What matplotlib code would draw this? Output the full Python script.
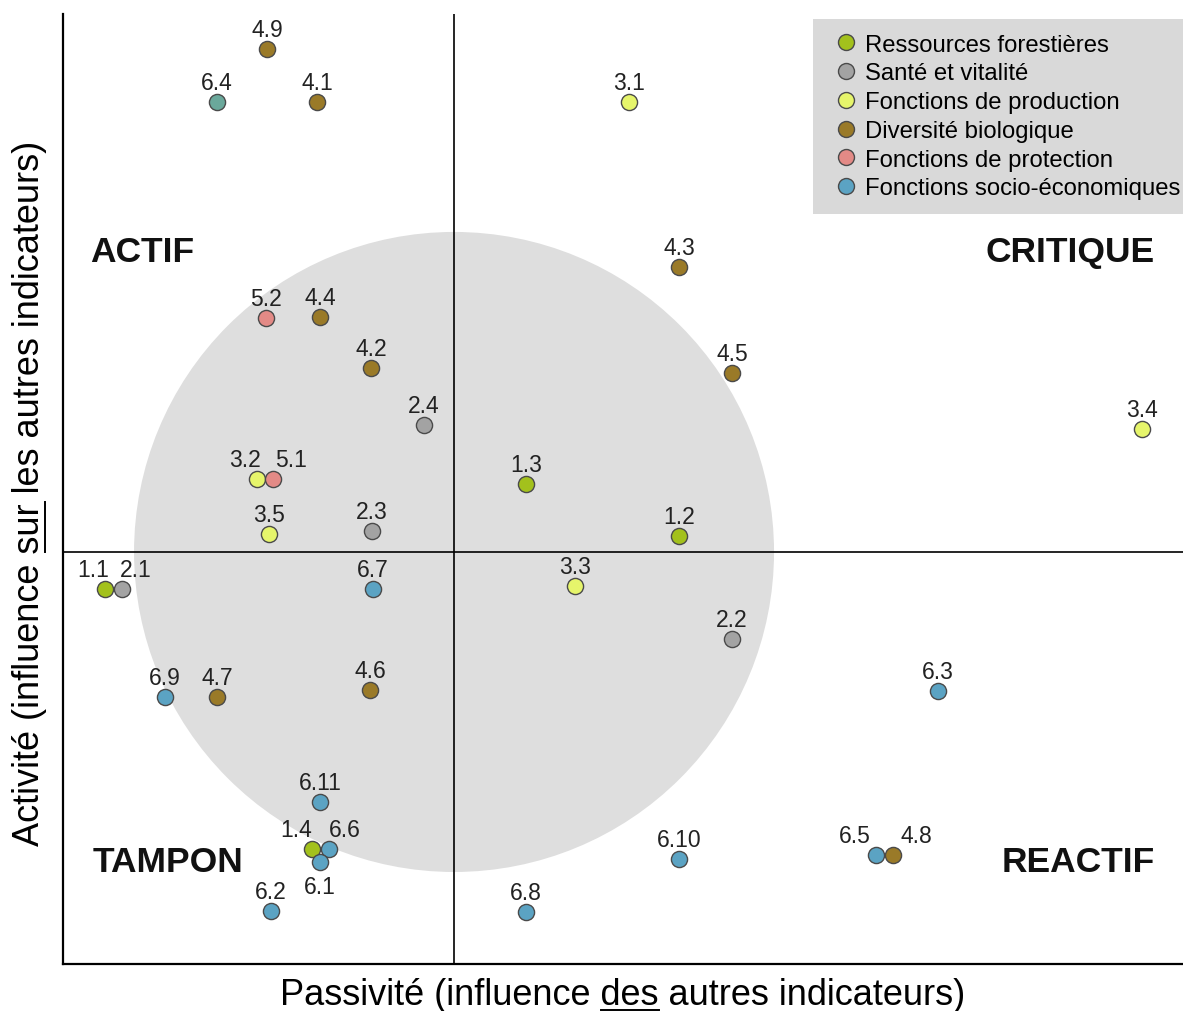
import matplotlib
matplotlib.use("Agg")
import matplotlib.pyplot as plt
from matplotlib.patches import Circle
from matplotlib.lines import Line2D

plt.rcParams['font.family'] = ['Liberation Sans', 'DejaVu Sans']

# ---- data ----
categories = ["Ressources forestières", "Santé et vitalité", "Fonctions de production",
              "Diversité biologique", "Fonctions de protection", "Fonctions socio-économiques"]
cat_colors = ["#a3c11c", "#a3a3a3", "#e6f56b", "#9a7a28", "#e38a86", "#5ba3c3"]

labels = ["4.9", "6.4", "4.1", "3.1", "4.3", "4.5", "3.4", "5.2", "4.4", "4.2", "2.4",
          "3.2", "5.1", "3.5", "2.3", "1.3", "1.2", "1.1", "2.1", "6.7", "3.3", "2.2",
          "6.3", "6.9", "4.7", "4.6", "6.11", "1.4", "6.6", "6.1", "6.2", "6.10", "6.8",
          "6.5", "4.8"]
passivite = [-5.84, -7.41, -4.28, 5.47, 7.03, 8.69, 21.50, -5.88, -4.19, -2.59, -0.94,
             -6.16, -5.66, -5.78, -2.56, 2.25, 7.03, -10.91, -10.38, -2.53, 3.78, 8.69,
             15.13, -9.03, -7.41, -2.63, -4.19, -4.44, -3.91, -4.19, -5.72, 7.03, 2.25,
             13.19, 13.72]
activite = [15.72, 14.06, 14.06, 14.06, 8.91, 5.59, 3.84, 7.31, 7.34, 5.75, 3.97,
            2.28, 2.28, 0.56, 0.66, 2.13, 0.50, -1.16, -1.16, -1.16, -1.06, -2.72,
            -4.34, -4.53, -4.53, -4.31, -7.81, -9.28, -9.28, -9.69, -11.22, -9.59, -11.25,
            -9.47, -9.47]
category_idx = [3, 5, 3, 2, 3, 3, 2, 4, 3, 3, 1,
                2, 4, 2, 1, 0, 0, 0, 1, 5, 2, 1,
                5, 5, 3, 3, 5, 0, 5, 5, 5, 5, 5,
                5, 3]
# point-specific colour shade (6.4 appears teal in the reference)
color_override = {"6.4": "#6aa89b"}

quadrants = ["ACTIF", "CRITIQUE", "TAMPON", "REACTIF"]

# ---- figure ----
W, H = 1183, 1012
fig = plt.figure(figsize=(W / 100, H / 100), dpi=100)
ax = fig.add_axes([63 / W, (H - 965) / H, 1120 / W, 950 / H])
ax.set_xlim(-12.22, 22.78)
ax.set_ylim(-12.875, 16.81)
for s in ["top", "right"]:
    ax.spines[s].set_visible(False)
for s in ["left", "bottom"]:
    ax.spines[s].set_linewidth(1.6)
    ax.spines[s].set_color("black")
ax.set_xticks([])
ax.set_yticks([])

ax.add_patch(Circle((0, 0), 10, facecolor="#dedede", edgecolor="none", zorder=0))
ax.axvline(0, color="black", lw=1.2, zorder=1)
ax.axhline(0, color="black", lw=1.2, zorder=1)

# label offsets (points) for crowded points
lab_off = {"1.1": (-8.6, 9.4), "2.1": (10, 9.4), "3.2": (-8.6, 9.4), "5.1": (13, 9.4),
           "1.4": (-11.5, 9.4), "6.6": (11.5, 9.4), "6.5": (-15, 9.4), "4.8": (16.5, 9.4),
           "6.1": (0, -22.3)}

for lab, x, y, c in zip(labels, passivite, activite, category_idx):
    col = color_override.get(lab, cat_colors[c])
    ax.scatter([x], [y], s=135, color=col, edgecolor="#4a4a4a", linewidth=1.0, zorder=3)
    dx, dy = lab_off.get(lab, (0, 9.4))
    ax.annotate(lab, (x, y), xytext=(dx, dy), textcoords="offset points",
                ha="center", va="baseline", fontsize=16.5, color="#222222", zorder=4)

qpos = [(-11.375, 9.4, "left"), (21.9, 9.4, "right"), (-11.3, -9.66, "left"), (21.9, -9.66, "right")]
for q, (x, y, ha) in zip(quadrants, qpos):
    ax.text(x, y, q, ha=ha, va="center", fontsize=25.5, fontweight="bold", color="#111111")

handles = [Line2D([], [], marker="o", ls="none", markersize=11.5, markerfacecolor=c,
                  markeredgecolor="#4a4a4a", markeredgewidth=1.0) for c in cat_colors]
leg = ax.legend(handles, categories, loc="upper right",
                bbox_to_anchor=(1.0 + 12 / 1120, 1 - 5 / 950),
                fontsize=17.2, frameon=True, fancybox=False, facecolor="#d9d9d9",
                edgecolor="none", framealpha=1, handletextpad=0.05, labelspacing=0.28,
                borderpad=0.62, handlelength=1.5, borderaxespad=0.0)
leg.set_zorder(5)

# axis labels with underlined words
xlab = "Passivité (influence des autres indicateurs)"
ylab = "Activité (influence sur les autres indicateurs)"
tx = fig.text(623 / W, 1 - 996 / H, xlab, ha="center", va="center", fontsize=26)
ty = fig.text(30 / W, 1 - 493 / H, ylab, ha="center", va="center", rotation=90, fontsize=26)

fig.canvas.draw()
r = fig.canvas.get_renderer()


def width_of(s, size):
    t = fig.text(0, 0, s, fontsize=size)
    w = t.get_window_extent(r).width
    t.remove()
    return w


def underline(txt, full, pre, word, vertical):
    bb = txt.get_window_extent(r)
    size = txt.get_fontsize()
    end = width_of(pre + word, size)
    ww = width_of(word, size)
    fullw = width_of(full, size)
    start = end - ww
    if not vertical:
        x0 = bb.x0 + (bb.width - fullw) / 2 + start
        yline = bb.y0 + 3
        fig.add_artist(Line2D([x0 / W, (x0 + ww) / W], [yline / H, yline / H], color="black", lw=1.4))
    else:
        y0 = bb.y0 + (bb.height - fullw) / 2 + start
        xline = bb.x1 - 3
        fig.add_artist(Line2D([xline / W, xline / W], [y0 / H, (y0 + ww) / H], color="black", lw=1.4))


underline(tx, xlab, "Passivité (influence ", "des", False)
underline(ty, ylab, "Activité (influence ", "sur", True)

fig.savefig("out.png", dpi=100)
